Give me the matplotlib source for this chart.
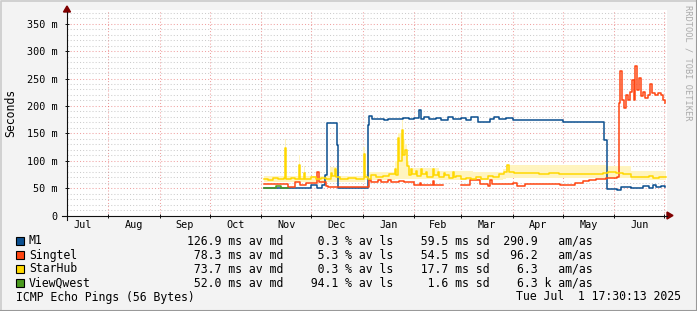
import numpy as np
import matplotlib
matplotlib.use("Agg")
from matplotlib import pyplot as plt
from matplotlib.patches import Polygon, Rectangle

# days since 2024-07-01
months = ['Jul', 'Aug', 'Sep', 'Oct', 'Nov', 'Dec', 'Jan', 'Feb', 'Mar', 'Apr', 'May', 'Jun']
month_starts = [0, 31, 62, 92, 123, 153, 184, 215, 243, 274, 304, 335, 365]
x_start, x_end = 6.4, 366.6

y_ticks = [0, 50, 100, 150, 200, 250, 300, 350]
y_tick_labels = ['0', '50 m', '100 m', '150 m', '200 m', '250 m', '300 m', '350 m']

# median rtt (ms), step series
m1_days = [124.7, 152, 153, 156.5, 159.5, 161.5, 162.5, 168.5, 169.2, 187, 188, 189.5, 194, 197,
           199, 204, 208, 212, 215, 218, 218.7, 221, 224, 228, 231, 235, 238, 243, 246, 249,
           253.2, 260.4, 263, 266, 270, 274.2, 304.3, 328.9, 330.5, 336.7, 339, 345, 352, 356,
           358, 360, 363, 365.5]
m1_ms = [51, 51, 55, 51, 55, 73, 168, 128, 51, 165, 181, 176, 177, 175,
         177, 176, 178, 176, 178, 192, 176, 179, 176, 178, 175, 179, 176, 178, 175, 179,
         170, 177, 179, 176, 178, 175, 171, 137, 49, 47, 52, 51, 53, 51,
         55, 52, 54, 52]

singtel_days = [124.7, 139.1, 143.3, 146.3, 149.9, 156.6, 157.6, 161.9, 163.1, 187.5, 189, 193,
                195, 199, 201, 206, 209, 214.8, 218.4, 219.2, 226, 227, 232.2, 243.0, 248.4,
                254.4, 259.2, 260.4, 261.5, 274.2, 276.6, 281.4, 302.5, 311.5, 316, 320, 324,
                330, 336.7, 337.5, 338.5, 339.5, 340.7, 341.9, 343.1, 344.3, 345.5, 346.7,
                347.3, 348.5, 349.7, 350.9, 352.1, 353.3, 355.1, 356.3, 357.5, 359.3, 361.1,
                362.9, 364.1, 365.2]
singtel_ms = [58, 52, 61, 55, 60, 79, 61, 54, 52, 64, 61, 64,
              61, 64, 61, 63, 61, 55, 60, 55, 63, 55, np.nan, 55, 64,
              57, 53, 64, 58, 59, 54, 58, 56, 60, 63, 65, 67,
              68, 70, 205, 263, 211, 196, 220, 211, 225, 247, 211,
              273, 229, 251, 218, 225, 214, 220, 240, 224, 220, 224,
              220, 211, 205]

starhub_days = [124.7, 127, 130, 133, 136.5, 137.3, 137.9, 141, 143, 145.7, 146.3, 148.7, 149.3,
                153, 156, 159, 162, 164.9, 165.5, 167.3, 168, 170, 175, 180, 184.5, 185.2, 187,
                189, 192, 196, 200, 203.4, 204.2, 205.2, 206, 207.6, 208.4, 209.5, 210.6, 212,
                213, 213.6, 216, 216.6, 219, 219.6, 222, 222.6, 226, 226.6, 229, 229.6, 233,
                233.6, 236, 238, 238.6, 240, 243, 246, 249, 252, 255, 259, 262,
                266, 269, 270.6, 271.5, 275, 280, 285, 290, 296, 302, 310, 320, 328, 331, 336,
                340, 345, 352, 356, 358, 362, 365.7]
starhub_ms = [67, 65, 68, 66, 68, 123, 66, 69, 67, 92, 66, 77, 67,
              70, 66, 69, 67, 78, 72, 85, 70, 66, 68, 66, 113, 70, 66,
              74, 70, 72, 76, 84, 74, 141, 100, 156, 110, 120, 90, 74,
              85, 76, 82, 72, 84, 75, 80, 70, 84, 74, 80, 70, 78,
              73, 68, 80, 70, 72, 67, 69, 66, 70, 67, 72, 70,
              75, 80, 92, 80, 78, 77, 78, 76, 77, 75, 75, 75, 78, 80, 78,
              75, 71, 70, 72, 69, 71, 71]

# StarHub smoke (spread of pings)
smoke_days = [124.7, 137.0, 137.9, 145.5, 146.3, 148.5, 149.3, 164.5, 168.5, 184.3, 185.2,
              187, 203.4, 205.0, 207.4, 208.4, 209.5, 210.6, 212, 230, 250, 268, 270, 330,
              345, 365.7]
smoke_hi = [72, 140, 72, 110, 72, 90, 72, 88, 72, 125, 76,
            80, 100, 150, 174, 140, 130, 100, 86, 82, 80, 84, 92, 90,
            82, 82]
smoke_lo = [62, 62, 62, 62, 62, 62, 62, 62, 62, 62, 64,
            65, 66, 66, 66, 66, 66, 66, 66, 65, 64, 66, 68, 68,
            65, 65]

viewqwest_days = [124.7, 131.9, 134.9, 139.1]
viewqwest_ms = [51, 54, 51, np.nan]

names = ['M1', 'Singtel', 'StarHub', 'ViewQwest']
colors = ['#0b4f8f', '#ff4511', '#ffd800', '#4a9a1e']
avg_ms = [126.9, 78.3, 73.7, 52.0]
loss_pct = [0.3, 5.3, 0.3, 94.1]
sd_ms = [59.5, 54.5, 17.7, 1.6]
am_as = [290.9, 96.2, 6.3, 6.3]
am_unit = [' ', ' ', ' ', 'k']

W, H = 697, 311
fig = plt.figure(figsize=(W / 100, H / 100), dpi=100, facecolor='#f3f3f3')
ax = fig.add_axes([67 / W, (H - 215.5) / H, 600 / W, 205.5 / H])
ax.set_facecolor('white')

mono = 'DejaVu Sans Mono'

ax.fill_between(smoke_days, smoke_lo, smoke_hi, step='post', color='#fff4bf', lw=0)
series = [(m1_days, m1_ms), (singtel_days, singtel_ms), (starhub_days, starhub_ms),
          (viewqwest_days, viewqwest_ms)]
for (d, v), c in zip(series, colors):
    ax.step(d, v, where='post', color=c, lw=1.1, zorder=3)

ax.set_xticks(month_starts)
ax.set_xticklabels([])
mids = [(a + b) / 2 for a, b in zip(month_starts[:-1], month_starts[1:])]
ax.set_xticks(mids, minor=True)
ax.set_xticklabels(months, minor=True, fontfamily=mono, fontsize=7.3)
ax.set_yticks(y_ticks)
ax.set_yticklabels(y_tick_labels, fontfamily=mono, fontsize=7.3)
ax.set_yticks(np.arange(0, 376, 10), minor=True)
# set_ticks widens the view, so limits go last
ax.set_xlim(x_start, x_end)
ax.set_ylim(0, 375)

ax.tick_params(axis='x', which='minor', length=0, pad=3)
ax.tick_params(axis='x', which='major', length=3, direction='inout', width=0.7, color='#101010')
ax.tick_params(axis='y', which='major', length=3, direction='inout', width=0.7, color='#101010', pad=5)
ax.tick_params(axis='y', which='minor', length=0)

ax.grid(True, which='major', color='#de3030', alpha=0.45, lw=0.75, ls=(0, (1, 2)))
ax.yaxis.grid(True, which='minor', color='#8f8f8f', alpha=0.45, lw=0.75, ls=(0, (1, 2)))
ax.set_axisbelow(True)
for s in ax.spines.values():
    s.set_visible(False)

fig.text(11 / W, 1 - 113 / H, 'Seconds', rotation=90, ha='center', va='center',
         fontfamily=mono, fontsize=8.3)

# overlay in pixel coordinates for axis lines, arrows, borders
ov = fig.add_axes([0, 0, 1, 1], facecolor='none')
ov.set_xlim(0, W)
ov.set_ylim(H, 0)
ov.axis('off')
ov.plot([62, 667], [215.5, 215.5], color='#101010', lw=0.8)
ov.plot([67, 67], [220, 12], color='#101010', lw=0.8)
ov.add_patch(Polygon([[667, 212], [673, 215.5], [667, 219]], closed=True, color='#7f0000'))
ov.add_patch(Polygon([[63.5, 12], [67, 6], [70.5, 12]], closed=True, color='#7f0000'))
ov.plot([0.5, 0.5, W - 0.5], [H - 0.5, 0.5, 0.5], color='#cbcbcb', lw=1.2)
ov.plot([0.5, W - 0.5, W - 0.5], [H - 0.5, H - 0.5, 0.5], color='#999999', lw=1.5)

fig.text(688 / W, 1 - 5 / H, 'RRDTOOL / TOBI OETIKER', rotation=-90, ha='center', va='top',
         fontfamily=mono, fontsize=6.2, color='#aaaaaa')

# legend
for i, n in enumerate(names):
    yc = 241 + 14 * i
    ov.add_patch(Rectangle((15.5, yc - 4), 8, 8, facecolor=colors[i], edgecolor='black', lw=0.8))
    fig.text(29 / W, 1 - yc / H, n, fontfamily=mono, fontsize=8.3, va='center')
    line = f"{avg_ms[i]:5.1f} ms av md{loss_pct[i]:8.1f} % av ls{sd_ms[i]:8.1f} ms sd{am_as[i]:7.1f} {am_unit[i]} am/as"
    fig.text(187 / W, 1 - yc / H, line, fontfamily=mono, fontsize=8.3, va='center')

fig.text(16 / W, 1 - 297 / H, 'ICMP Echo Pings (56 Bytes)', fontfamily=mono, fontsize=8.3, va='center')
fig.text(681 / W, 1 - 297 / H, 'Tue Jul  1 17:30:13 2025', fontfamily=mono, fontsize=8.3,
         va='center', ha='right')

fig.savefig('out.png', dpi=100, facecolor=fig.get_facecolor())
